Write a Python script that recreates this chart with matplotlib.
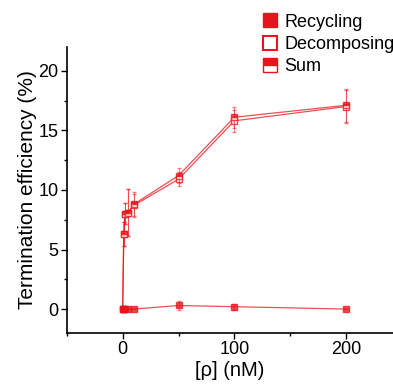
import matplotlib
matplotlib.use('Agg')
from matplotlib import pyplot as plt
from matplotlib.ticker import MultipleLocator

plt.rcParams['font.family'] = ['Liberation Sans', 'DejaVu Sans']

# concentrations of rho (nM)
conc = [0, 1, 2, 5, 10, 50, 100, 200]

recycling = [0, 0, 0, 0, 0, 0.3, 0.2, 0]
recycling_err = [0, 0, 0, 0, 0, 0.4, 0.25, 0]

decomposing = [0, 6.3, 8.0, 8.1, 8.7, 10.9, 15.8, 17.0]
decomposing_err = [0, 1.0, 0.9, 2.0, 1.0, 0.6, 0.9, 1.4]

total = [0, 6.3, 8.0, 8.1, 8.8, 11.2, 16.1, 17.1]
total_err = [0, 1.0, 0.9, 2.0, 1.0, 0.6, 0.9, 1.4]

red = '#e8141c'

fig = plt.figure(dpi=100, figsize=(3.93, 3.88))
ax = fig.add_axes([0.170, 0.142, 0.83, 0.737])

common = dict(color=red, ecolor=red, elinewidth=0.8, capsize=1.5, capthick=0.8,
              markersize=5, markeredgewidth=1.0, markeredgecolor=red, lw=0.9)

h2 = ax.errorbar(conc, decomposing, yerr=decomposing_err, marker='s', markerfacecolor='white',
                 label='Decomposing', zorder=2, **common)
h3 = ax.errorbar(conc, total, yerr=total_err, marker='s', fillstyle='top',
                 markerfacecolor=red, markerfacecoloralt='white', label='Sum', zorder=2.5, **common)
h1 = ax.errorbar(conc, recycling, yerr=recycling_err, marker='s', markerfacecolor=red,
                 label='Recycling', zorder=3, **common)
for h in (h1, h2, h3):
    h[0].set_alpha(0.75)
    for b in h[2]:
        b.set_alpha(0.5)
    for c in h[1]:
        c.set_alpha(0.5)

ax.set_xlim(-50, 242)
ax.set_ylim(-2, 22)
ax.set_xticks([0, 100, 200])
ax.set_yticks([0, 5, 10, 15, 20])
ax.xaxis.set_minor_locator(MultipleLocator(50))
ax.yaxis.set_minor_locator(MultipleLocator(2.5))
ax.tick_params(axis='both', which='major', direction='out', length=4, width=1, labelsize=13, pad=2)
ax.tick_params(axis='both', which='minor', direction='out', length=2, width=1)
for s in ('top', 'right'):
    ax.spines[s].set_visible(False)
for s in ('left', 'bottom'):
    ax.spines[s].set_linewidth(1.2)

ax.set_xlabel('[ρ] (nM)', fontsize=14.5, labelpad=2)
ax.set_ylabel('Termination efficiency (%)', fontsize=15, labelpad=1)

leg_handles = [plt.Line2D([], [], ls='none', marker='s', markersize=10, color=red, markerfacecolor=red),
               plt.Line2D([], [], ls='none', marker='s', markersize=10, color=red, markerfacecolor='white', markeredgewidth=1.5),
               plt.Line2D([], [], ls='none', marker='s', markersize=10, color=red, fillstyle='top',
                          markerfacecolor=red, markerfacecoloralt='white')]
fig.legend(leg_handles, ['Recycling', 'Decomposing', 'Sum'], loc='upper left',
           bbox_to_anchor=(0.659, 0.965), frameon=False, fontsize=13, borderpad=0,
           borderaxespad=0, handletextpad=0.2, labelspacing=0.3, handlelength=1.2)

plt.savefig('out.png')
